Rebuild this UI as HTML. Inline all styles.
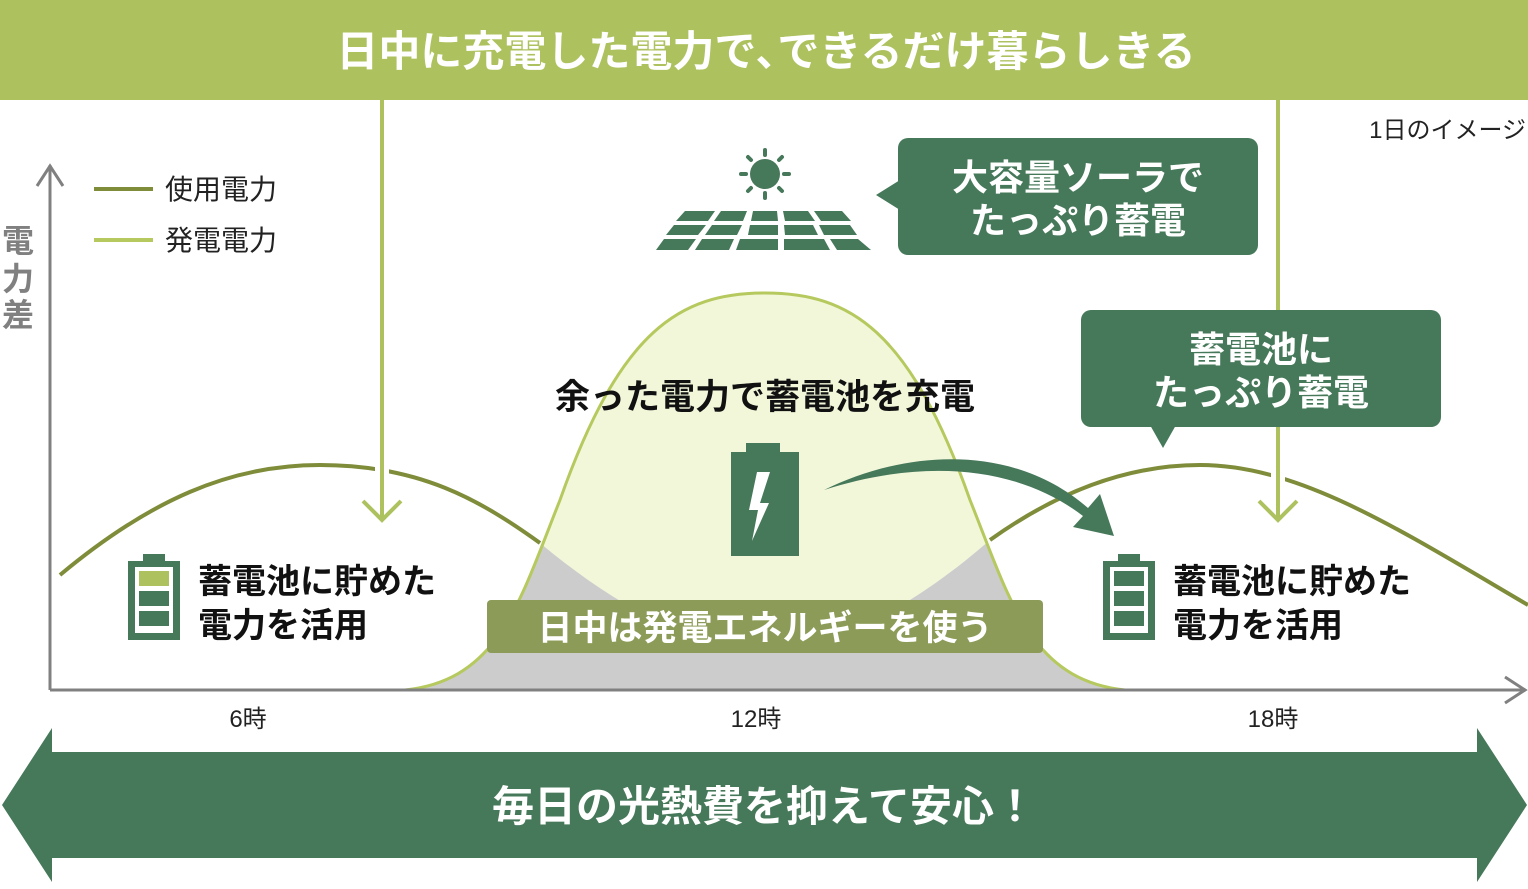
<!DOCTYPE html>
<html><head><meta charset="utf-8"><style>
body{margin:0;width:1528px;height:884px;overflow:hidden;background:#fff;font-family:"Liberation Sans","Noto Sans CJK JP",sans-serif}
svg text{font-family:"Liberation Sans","Noto Sans CJK JP",sans-serif}
</style></head><body>
<svg width="1528" height="884" viewBox="0 0 1528 884" xmlns="http://www.w3.org/2000/svg">
<defs>
<clipPath id="gc"><path d="M405,690 C500,680 520,600 560,500 C620,330 680,293 765,293 C850,293 910,330 970,500 C1010,600 1030,680 1125,690 Z"/></clipPath>
</defs>
<rect x="0" y="0" width="1528" height="100" fill="#adc25f"/>
<text x="766" y="66" font-size="42" font-weight="bold" fill="#fff" text-anchor="middle">日中に充電した電力で､できるだけ暮らしきる</text>
<text x="1526" y="138" font-size="24" fill="#222" text-anchor="end">1日のイメージ</text>
<path d="M405,690 C500,680 520,600 560,500 C620,330 680,293 765,293 C850,293 910,330 970,500 C1010,600 1030,680 1125,690 Z" fill="#f2f7da"/>
<path clip-path="url(#gc)" d="M60,575 C150,500 230,465 320,465 C420,465 480,500 540,543 C620,610 700,650 765,650 C830,650 910,610 990,540 C1060,490 1130,465 1200,465 L1200,690 L60,690 Z" fill="#cccccc"/>
<path d="M405,690 C500,680 520,600 560,500 C620,330 680,293 765,293 C850,293 910,330 970,500 C1010,600 1030,680 1125,690" fill="none" stroke="#b5c95e" stroke-width="3"/>
<path d="M60,575 C150,500 230,465 320,465 C420,465 480,500 540,543" fill="none" stroke="#7f8c3a" stroke-width="4"/>
<path d="M990,540 C1060,490 1130,465 1200,465 C1300,465 1400,530 1528,605" fill="none" stroke="#7f8c3a" stroke-width="4"/>
<g stroke="#808080" stroke-width="3" fill="none">
<path d="M50,690 V165"/><path d="M37,186 L50,166 L63,186"/>
<path d="M50,690 H1525"/><path d="M1505,677 L1525,690 L1505,703"/>
</g>
<text x="18" y="252" font-size="32" font-weight="bold" fill="#808080" text-anchor="middle">電</text>
<text x="18" y="290" font-size="32" font-weight="bold" fill="#808080" text-anchor="middle">力</text>
<text x="18" y="326" font-size="32" font-weight="bold" fill="#808080" text-anchor="middle">差</text>
<line x1="94" y1="189" x2="153" y2="189" stroke="#7f8c3a" stroke-width="4"/>
<line x1="94" y1="240" x2="153" y2="240" stroke="#b5c95e" stroke-width="4"/>
<text x="165" y="199" font-size="28" fill="#222">使用電力</text>
<text x="165" y="250" font-size="28" fill="#222">発電電力</text>
<g stroke="#adc25f" stroke-width="4" fill="none">
<line x1="382" y1="100" x2="382" y2="520" stroke="#fff" stroke-width="14"/>
<line x1="382" y1="100" x2="382" y2="520"/><path d="M363,501 L382,520 L401,501"/>
<line x1="1278" y1="100" x2="1278" y2="520" stroke="#fff" stroke-width="14"/>
<line x1="1278" y1="100" x2="1278" y2="520"/><path d="M1259,501 L1278,520 L1297,501"/>
</g>
<g fill="#46785a">
<circle cx="765" cy="174" r="15"/>
<g stroke="#46785a" stroke-width="4" stroke-linecap="round">
<line x1="765" y1="150" x2="765" y2="155"/><line x1="765" y1="193" x2="765" y2="198"/>
<line x1="741" y1="174" x2="746" y2="174"/><line x1="784" y1="174" x2="789" y2="174"/>
<line x1="748" y1="157" x2="751" y2="160"/><line x1="779" y1="188" x2="782" y2="191"/>
<line x1="748" y1="191" x2="751" y2="188"/><line x1="779" y1="160" x2="782" y2="157"/>
</g>
<polygon points="685,211 715,211 708,221 676,221"/><polygon points="721,211 747,211 743,221 714,221"/><polygon points="753,211 777,211 778,221 751,221"/><polygon points="783,211 808,211 815,221 785,221"/><polygon points="814,211 842,211 851,221 821,221"/>
<polygon points="674,225 706,225 698,235 666,235"/><polygon points="712,225 742,225 737,235 705,235"/><polygon points="750,225 778,225 778,235 748,235"/><polygon points="784,225 813,225 818,235 785,235"/><polygon points="819,225 850,225 857,235 824,235"/>
<polygon points="664,239 696,239 688,250 656,250"/><polygon points="702,239 734,239 729,250 695,250"/><polygon points="740,239 778,239 778,250 736,250"/><polygon points="784,239 824,239 830,250 784,250"/><polygon points="830,239 858,239 871,250 837,250"/>
</g>
<rect x="898" y="138" width="360" height="117" rx="10" fill="#46785a"/>
<polygon points="876,195 900,180 900,210" fill="#46785a"/>
<text x="1078" y="190" font-size="36" font-weight="bold" fill="#fff" text-anchor="middle">大容量ソーラで</text>
<text x="1078" y="233" font-size="36" font-weight="bold" fill="#fff" text-anchor="middle">たっぷり蓄電</text>
<rect x="1081" y="310" width="360" height="117" rx="10" fill="#46785a"/>
<polygon points="1150,425 1176,425 1163,448" fill="#46785a"/>
<text x="1261" y="362" font-size="36" font-weight="bold" fill="#fff" text-anchor="middle">蓄電池に</text>
<text x="1261" y="405" font-size="36" font-weight="bold" fill="#fff" text-anchor="middle">たっぷり蓄電</text>
<text x="765" y="409" font-size="35" font-weight="bold" fill="#111" text-anchor="middle">余った電力で蓄電池を充電</text>
<rect x="746" y="443" width="34" height="12" fill="#46785a"/>
<rect x="731" y="452" width="68" height="104" fill="#46785a"/>
<polygon points="770,472 760,503 769,503 752,541 758,510 749,510 757,472" fill="#fff"/>
<path d="M824,490 C900,452 1010,440 1088,508 L1100,494 L1114,536 L1073,527 L1083,516 C1010,460 910,462 824,490Z" fill="#46785a"/>
<rect x="487" y="600" width="556" height="53" rx="4" fill="#8c9c58"/>
<text x="765" y="640" font-size="35" font-weight="bold" fill="#fff" text-anchor="middle">日中は発電エネルギーを使う</text>
<rect x="143" y="554" width="22" height="8" fill="#46785a"/>
<rect x="128" y="561" width="52" height="79" fill="#46785a"/>
<rect x="135" y="567" width="38" height="66" fill="#fff"/>
<rect x="139" y="571" width="30" height="15" fill="#adc25f"/>
<rect x="139" y="591" width="30" height="15" fill="#46785a"/>
<rect x="139" y="611" width="30" height="15" fill="#46785a"/>
<text x="198" y="593" font-size="34" font-weight="bold" fill="#111">蓄電池に貯めた</text>
<text x="198" y="637" font-size="34" font-weight="bold" fill="#111">電力を活用</text>
<rect x="1118" y="554" width="22" height="8" fill="#46785a"/>
<rect x="1103" y="561" width="52" height="79" fill="#46785a"/>
<rect x="1110" y="567" width="38" height="66" fill="#fff"/>
<rect x="1114" y="571" width="30" height="15" fill="#46785a"/>
<rect x="1114" y="591" width="30" height="15" fill="#46785a"/>
<rect x="1114" y="611" width="30" height="15" fill="#46785a"/>
<text x="1173" y="593" font-size="34" font-weight="bold" fill="#111">蓄電池に貯めた</text>
<text x="1173" y="637" font-size="34" font-weight="bold" fill="#111">電力を活用</text>
<text x="248" y="727" font-size="24" fill="#222" text-anchor="middle">6時</text>
<text x="756" y="727" font-size="24" fill="#222" text-anchor="middle">12時</text>
<text x="1273" y="727" font-size="24" fill="#222" text-anchor="middle">18時</text>
<polygon points="2,805 52,728 52,752 1477,752 1477,728 1527,805 1477,882 1477,858 52,858 52,882" fill="#46785a"/>
<text x="764" y="821" font-size="42" font-weight="bold" fill="#fff" text-anchor="middle">毎日の光熱費を抑えて安心！</text>
</svg>
</body></html>
